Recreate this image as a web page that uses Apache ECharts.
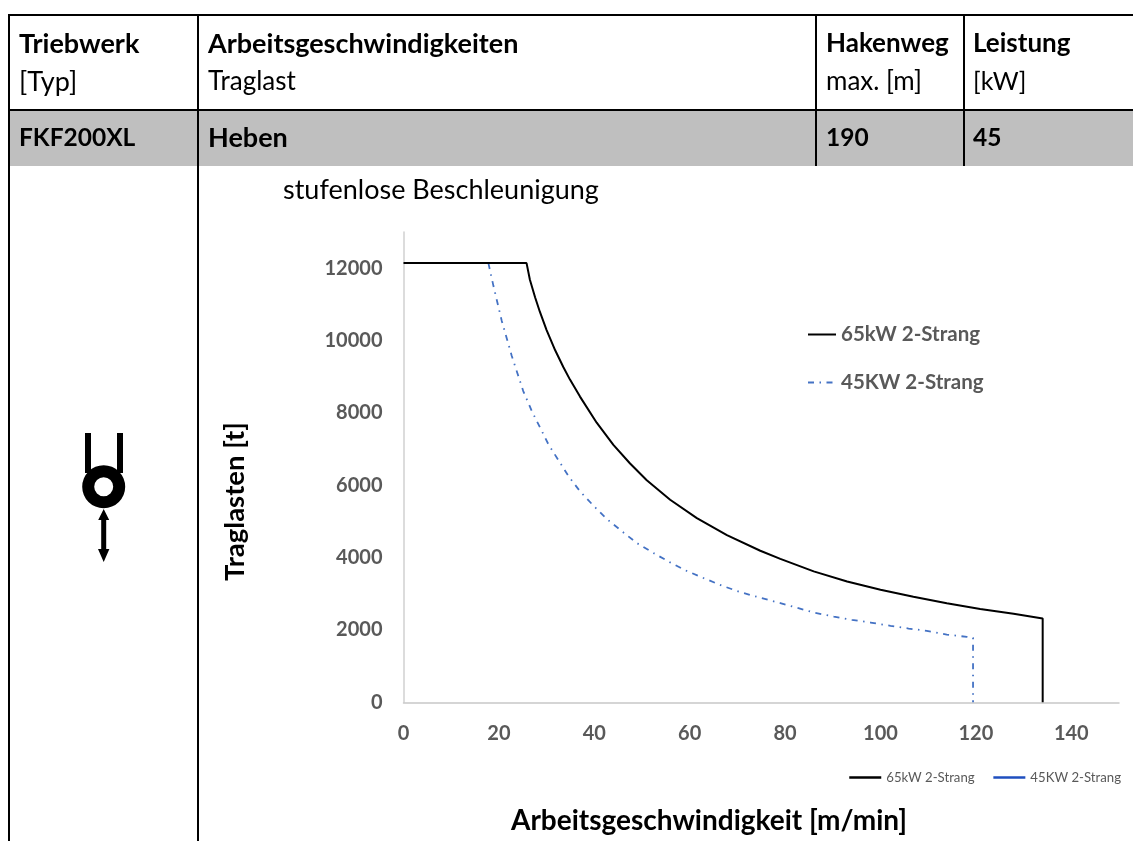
<!DOCTYPE html>
<html><head><meta charset="utf-8">
<script src="https://cdn.jsdelivr.net/npm/echarts@6/dist/echarts.min.js"></script>
<style>html,body{margin:0;padding:0;background:#fff}#c{width:1133px;height:841px}</style>
</head><body><div id="c"></div>
<script>
const xTicksMax = 150;
const seriesNames = ['65kW 2-Strang', '45KW 2-Strang'];
const speed65 = [0,25.8,26.5,27.6,28.6,30.0,31.8,33.5,34.9,37.0,40.5,44.0,47.5,51.0,55.9,61.5,67.8,74.8,79.0,86.0,93.0,100.0,106.9,113.9,120.9,127.9,134.0,134.0];
const load65  = [12140,12140,11680,11190,10790,10290,9730,9270,8920,8450,7729,7115,6600,6140,5600,5090,4620,4190,3965,3620,3340,3110,2915,2735,2578,2445,2316,0];
const speed45 = [17.8,18.85,20.6,22.7,25.1,26.9,30.4,34.6,37.0,39.8,42.6,45.8,48.9,52.4,55.9,59.4,62.9,66.8,70.6,74.8,79.0,86.0,90.2,94.0,97.9,102.1,105.9,109.7,113.9,118.1,119.4,119.4];
const load45  = [12140,11512,10543,9573,8604,8050,7127,6249,5834,5438,5069,4726,4404,4127,3867,3629,3435,3222,3047,2889,2742,2482,2371,2280,2205,2114,2039,1975,1873,1809,1781,0];

const F = 'Lato, Carlito, sans-serif';
const zip = (a, b) => a.map((v, i) => [v, b[i]]);
const txt = (text, x, y, size, bold, extra) => Object.assign({
  type: 'text', silent: true, x, y,
  style: { text, fill: '#000', font: (bold ? 'bold ' : '') + size + 'px ' + F, textAlign: 'left', textVerticalAlign: 'middle' }
}, extra || {});
const ln = (x1, y1, x2, y2, w) => ({ type: 'line', silent: true, shape: { x1, y1, x2, y2 }, style: { stroke: '#000', lineWidth: w || 2 } });

const tableGraphics = [
  { type: 'rect', silent: true, shape: { x: 9, y: 110, width: 1124, height: 56 }, style: { fill: '#bfbfbf' } },
  ln(8, 15, 1133, 15), ln(8, 110, 1133, 110),
  ln(9, 14, 9, 841), ln(198, 14, 198, 841),
  ln(816, 14, 816, 166), ln(964, 14, 964, 166),
  txt('Triebwerk', 19, 44, 27, true), txt('[Typ]', 19, 82, 27, false),
  txt('FKF200XL', 19, 138, 24.5, true),
  txt('Arbeitsgeschwindigkeiten', 208, 44, 27, true), txt('Traglast', 208, 82, 26, false),
  txt('Heben', 208, 138, 27, true),
  txt('Hakenweg', 826, 44, 26, true), txt('max. [m]', 826, 82, 26, false), txt('190', 826, 138, 24.5, true),
  txt('Leistung', 973, 44, 26, true), txt('[kW]', 973, 82, 25, false), txt('45', 973, 138, 24.5, true),
  txt('stufenlose Beschleunigung', 283, 190, 27, false),
  txt('Arbeitsgeschwindigkeit [m/min]', 511, 821, 28, true),
  { type: 'text', silent: true, x: 235, y: 501.5, rotation: Math.PI / 2, style: { text: 'Traglasten [t]', fill: '#000', font: 'bold 27.5px ' + F, textAlign: 'center', textVerticalAlign: 'middle' } },
  // hook symbol
  { type: 'rect', silent: true, shape: { x: 85, y: 433, width: 6, height: 40 }, style: { fill: '#000' } },
  { type: 'rect', silent: true, shape: { x: 117, y: 433, width: 6, height: 40 }, style: { fill: '#000' } },
  { type: 'ring', silent: true, shape: { cx: 103.7, cy: 486.7, r: 21.5, r0: 9.5 }, style: { fill: '#000' } },
  { type: 'polygon', silent: true, shape: { points: [[103.7,509],[109.2,520],[106.2,520],[106.2,549],[109.4,549],[103.7,562],[98,549],[101.2,549],[101.2,520],[98.2,520]] }, style: { fill: '#000' } }
];

const tickFmt = v => String(v);
const chart = echarts.init(document.getElementById('c'), null, { renderer: 'canvas' });
chart.setOption({
  animation: false,
  backgroundColor: '#fff',
  grid: { left: 403.5, right: 14, top: 232, bottom: 138.7, containLabel: false },
  xAxis: {
    type: 'value', min: 0, max: xTicksMax, interval: 20,
    splitLine: { show: false }, axisTick: { show: false },
    axisLine: { lineStyle: { color: '#c8c8c8', width: 1.5 } },
    axisLabel: { color: '#595959', fontFamily: F, fontWeight: 'bold', fontSize: 20, margin: 21, showMaxLabel: false, formatter: tickFmt }
  },
  yAxis: {
    type: 'value', min: 0, max: 13000, interval: 2000,
    splitLine: { show: false }, axisTick: { show: false },
    axisLine: { show: true, lineStyle: { color: '#d0d0d0', width: 1.5 } },
    axisLabel: { color: '#595959', fontFamily: F, fontWeight: 'bold', fontSize: 20, margin: 21, showMaxLabel: false, formatter: tickFmt }
  },
  legend: [
    { left: 807, top: 324, padding: 0, orient: 'vertical', itemWidth: 28, itemHeight: 10, itemGap: 27, selectedMode: false,
      itemStyle: { opacity: 0 },
      textStyle: { color: '#595959', fontFamily: F, fontWeight: 'bold', fontSize: 20.5 }, data: seriesNames },
    { left: 848, top: 771, padding: 0, orient: 'horizontal', itemWidth: 32, itemHeight: 8, itemGap: 17.5, selectedMode: false,
      itemStyle: { opacity: 0 },
      textStyle: { color: '#595959', fontFamily: F, fontSize: 13.2 },
      data: [
        { name: seriesNames[0], lineStyle: { color: '#000', width: 2.5, type: 'solid' } },
        { name: seriesNames[1], lineStyle: { color: '#1f4fbf', width: 2.5, type: 'solid' } }
      ] }
  ],
  series: [
    { name: seriesNames[1], type: 'line', symbol: 'none', z: 2, data: zip(speed45, load45),
      itemStyle: { color: '#4472c4' }, lineStyle: { color: '#4472c4', width: 1.8, type: [6, 5.5, 1.5, 5.5] } },
    { name: seriesNames[0], type: 'line', symbol: 'none', z: 3, data: zip(speed65, load65),
      itemStyle: { color: '#000' }, lineStyle: { color: '#000', width: 2 } }
  ],
  graphic: { elements: tableGraphics }
});
</script></body></html>
